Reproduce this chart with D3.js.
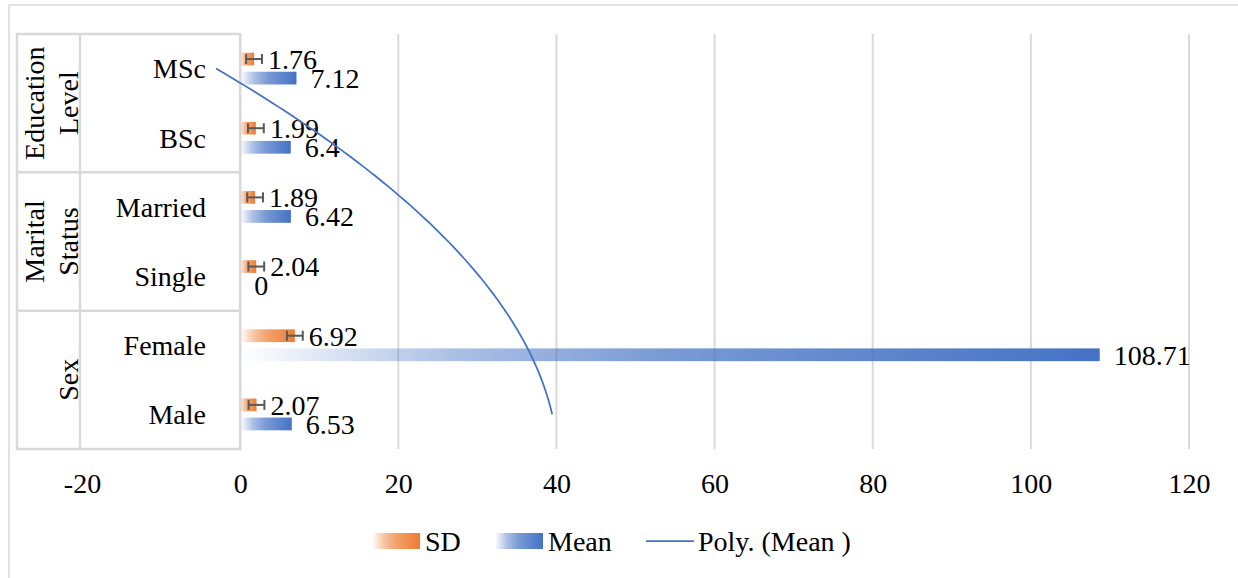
<!DOCTYPE html>
<html>
<head>
<meta charset="utf-8">
<script src="https://cdn.jsdelivr.net/npm/d3@7/dist/d3.min.js"></script>
<style>
  html, body { margin: 0; padding: 0; background: #fff; }
  svg { display: block; }
</style>
</head>
<body>
<svg id="chart" width="1238" height="578"></svg>
<script>
// ---- data (top to bottom as shown) ----
const categories = ["MSc", "BSc", "Married", "Single", "Female", "Male"];
const groupLabels = [["Education", "Level"], ["Marital", "Status"], ["Sex"]];
const groupSizes = [2, 2, 2];
const sdValues = [1.76, 1.99, 1.89, 2.04, 6.92, 2.07];
const meanValues = [7.12, 6.4, 6.42, 0, 108.71, 6.53];
const sdErrorAmount = 1;
const xTicks = [-20, 0, 20, 40, 60, 80, 100, 120];
const seriesNames = ["SD", "Mean"];
const trendName = "Poly. (Mean )";

(function () {
const FONT = "'Liberation Serif', Tinos, 'Times New Roman', 'DejaVu Serif', serif";
const FS = 28;
const colors = { SD: "#ED7D31", Mean: "#4472C4" };
const grid = "#D9D9D9";

const svg = d3.select("#chart").attr("font-family", FONT).style("font-family", FONT);
const defs = svg.append("defs");
Object.entries(colors).forEach(([k, c]) => {
  const g = defs.append("linearGradient").attr("id", "grad" + k)
    .attr("x1", 0).attr("x2", 1).attr("y1", 0).attr("y2", 0);
  [[0, 0], [0.25, 0.45], [0.5, 0.72], [1, 1]].forEach(([o, op]) =>
    g.append("stop").attr("offset", o).attr("stop-color", c).attr("stop-opacity", op));
});

// chart border
svg.append("rect").attr("x", 9).attr("y", 5).attr("width", 1240).attr("height", 600)
  .attr("fill", "none").attr("stroke", grid).attr("stroke-width", 1.5);

const plotTop = 34, plotBottom = 449;
const x = d3.scaleLinear().domain([-20, 120]).range([82, 1189]);
const y = d3.scaleBand().domain(categories).range([plotTop, plotBottom]).padding(0);
const ySub = d3.scaleBand().domain(seriesNames).range([0, y.bandwidth()])
  .paddingInner(0.33).paddingOuter(0.98);

// gridlines
svg.append("g").selectAll("line").data(xTicks).join("line")
  .attr("x1", d => x(d)).attr("x2", d => x(d))
  .attr("y1", plotTop).attr("y2", plotBottom)
  .attr("stroke", grid).attr("stroke-width", 2);

// x axis tick labels
const xAxis = d3.axisBottom(x).tickValues(xTicks).tickSize(0).tickPadding(0).tickFormat(d => String(d));
const gx = svg.append("g").attr("transform", `translate(0,${plotBottom})`).call(xAxis);
gx.attr("font-family", FONT).attr("font-size", FS);
gx.select(".domain").remove();
gx.selectAll("text").attr("y", 0).attr("dy", 0)
  .attr("transform", "translate(0,44)").attr("fill", "#000");

// category label box
const boxL = 17, boxMid = 80, boxR = x(0);
svg.append("rect").attr("x", boxL).attr("y", plotTop).attr("width", boxR - boxL).attr("height", plotBottom - plotTop)
  .attr("fill", "#fff").attr("stroke", grid).attr("stroke-width", 2.5);
svg.append("line").attr("x1", boxMid).attr("x2", boxMid).attr("y1", plotTop).attr("y2", plotBottom)
  .attr("stroke", grid).attr("stroke-width", 2.5);
let idx = 0;
const groupSpans = groupSizes.map(n => {
  const s = { y0: y(categories[idx]), y1: y(categories[idx + n - 1]) + y.bandwidth() };
  idx += n; return s;
});
groupSpans.slice(1).forEach(s => {
  svg.append("line").attr("x1", boxL).attr("x2", boxR).attr("y1", s.y0).attr("y2", s.y0)
    .attr("stroke", grid).attr("stroke-width", 2.5);
});
// group labels (rotated)
groupSpans.forEach((s, i) => {
  const lines = groupLabels[i];
  const yc = (s.y0 + s.y1) / 2;
  lines.forEach((ln, j) => {
    const bx = 78 - (lines.length - 1 - j) * 34;
    svg.append("text").attr("transform", `translate(${bx},${yc}) rotate(-90)`)
      .attr("text-anchor", "middle").attr("font-size", FS).text(ln);
  });
});
// category labels
svg.append("g").selectAll("text").data(categories).join("text")
  .attr("x", 206).attr("y", d => y(d) + y.bandwidth() / 2).attr("dy", "0.35em")
  .attr("text-anchor", "end").attr("font-size", FS).text(d => d);

// bars
const rows = categories.map((c, i) => ({ c, SD: sdValues[i], Mean: meanValues[i] }));
seriesNames.forEach(s => {
  svg.append("g").selectAll("rect").data(rows).join("rect")
    .attr("x", x(0)).attr("y", d => y(d.c) + ySub(s))
    .attr("width", d => x(d[s]) - x(0)).attr("height", ySub.bandwidth())
    .attr("fill", `url(#grad${s})`);
});

// error bars on SD
const eg = svg.append("g").attr("stroke", "#595959").attr("stroke-width", 2).attr("fill", "none");
rows.forEach(d => {
  const yc = y(d.c) + ySub("SD") + ySub.bandwidth() / 2;
  const xa = x(d.SD - sdErrorAmount), xb = x(d.SD + sdErrorAmount);
  eg.append("line").attr("x1", xa).attr("x2", xb).attr("y1", yc).attr("y2", yc);
  eg.append("line").attr("x1", xa).attr("x2", xa).attr("y1", yc - 5).attr("y2", yc + 5);
  eg.append("line").attr("x1", xb).attr("x2", xb).attr("y1", yc - 5).attr("y2", yc + 5);
});

// data labels
seriesNames.forEach(s => {
  svg.append("g").selectAll("text").data(rows).join("text")
    .attr("x", d => x(d[s]) + 14)
    .attr("y", d => y(d.c) + ySub(s) + ySub.bandwidth() / 2).attr("dy", "0.35em")
    .attr("font-size", FS).text(d => String(d[s]));
});

// polynomial (order 2) trendline of Mean, Excel category index 1 = bottom
const n = categories.length;
const pts = meanValues.map((v, i) => ({ t: n - i, v }));
const tm = d3.mean(pts, p => p.t);
const u2m = d3.mean(pts, p => (p.t - tm) ** 2);
const a = d3.mean(pts, p => p.v);
const b = d3.sum(pts, p => (p.t - tm) * p.v) / d3.sum(pts, p => (p.t - tm) ** 2);
const cc = d3.sum(pts, p => ((p.t - tm) ** 2 - u2m) * p.v) / d3.sum(pts, p => ((p.t - tm) ** 2 - u2m) ** 2);
const fit = t => a + b * (t - tm) + cc * ((t - tm) ** 2 - u2m);
const yOfT = t => y(categories[n - 1]) + y.bandwidth() / 2 - (t - 1) * y.step();
const curve = d3.range(1, n + 0.001, 0.05).map(t => [x(fit(t)), yOfT(t)]);
svg.append("path").attr("d", d3.line()(curve)).attr("fill", "none")
  .attr("stroke", "#4472C4").attr("stroke-width", 1.75);

// legend
const lg = svg.append("g");
const legendY = 541;
lg.append("rect").attr("x", 372).attr("y", legendY - 8).attr("width", 48).attr("height", 16).attr("fill", "url(#gradSD)");
lg.append("text").attr("x", 425).attr("y", legendY).attr("dy", "0.35em").attr("font-size", FS).text(seriesNames[0]);
lg.append("rect").attr("x", 495).attr("y", legendY - 8).attr("width", 48).attr("height", 16).attr("fill", "url(#gradMean)");
lg.append("text").attr("x", 548).attr("y", legendY).attr("dy", "0.35em").attr("font-size", FS).text(seriesNames[1]);
lg.append("line").attr("x1", 646).attr("x2", 694).attr("y1", legendY).attr("y2", legendY)
  .attr("stroke", "#4472C4").attr("stroke-width", 1.75);
lg.append("text").attr("x", 698).attr("y", legendY).attr("dy", "0.35em").attr("font-size", FS).text(trendName);
})();
</script>
</body>
</html>
